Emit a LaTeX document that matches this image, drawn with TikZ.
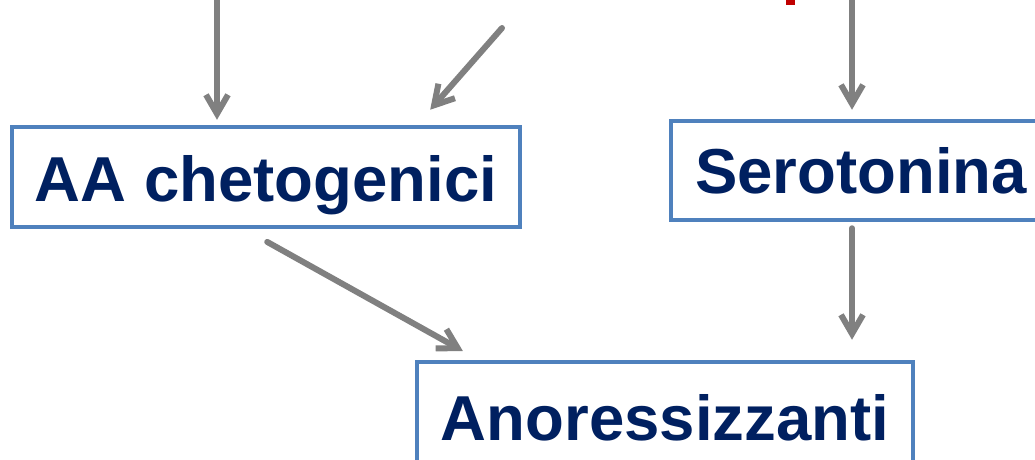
\documentclass[tikz,border=0pt]{standalone}
\usepackage{fontspec}
\setmainfont{Liberation Sans}
\usetikzlibrary{arrows.meta}
\definecolor{navy}{RGB}{0,32,96}
\definecolor{boxblue}{RGB}{79,129,189}
\definecolor{arrgray}{RGB}{128,128,128}
\definecolor{darkred}{RGB}{192,0,0}
\tikzset{
  box/.style={draw=boxblue, line width=4.5pt, fill=white, inner sep=0pt, text=navy,
    text depth=0pt, font=\fontsize{63.5}{70}\selectfont\bfseries},
  arr/.style={draw=arrgray, line width=6pt, line cap=round,
    -{Straight Barb[length=19pt,width=22pt]}}
}
\begin{document}
\begin{tikzpicture}[x=1pt,y=-1pt]
\useasboundingbox (0,0) rectangle (1035,459);
\clip (0,0) rectangle (1035,459);
\fill[white] (0,0) rectangle (1035,459);
\node[box, minimum width=508pt, minimum height=100pt, text height=48pt] (a) at (266,177) {AA chetogenici};
\node[box, minimum width=380pt, minimum height=99pt, text height=45pt] (b) at (861,170.5) {Serotonina};
\node[box, minimum width=496pt, minimum height=100pt, text height=56pt] (c) at (665,412) {Anoressizzanti};
\fill[darkred] (786,-1) rectangle (795,5);
\coordinate (t1) at (217,-5);
\coordinate (t2) at (502,28);
\coordinate (t3) at (852,-5);
\draw[arr, shorten >=5pt] (t1) -- (t1 |- a.north);
\draw[arr, shorten >=20pt] (t2) -- ([xshift=151pt]a.north);
\draw[arr, shorten >=9pt] (t3) -- (t3 |- b.north);
\draw[arr, shorten <=6pt, shorten >=20pt] (t3 |- b.south) -- (t3 |- c.north);
\draw[arr, shorten <=26pt, shorten >=18pt] ([xshift=-21.5pt]a.south) -- ([xshift=-186.4pt]c.north);
\end{tikzpicture}
\end{document}
